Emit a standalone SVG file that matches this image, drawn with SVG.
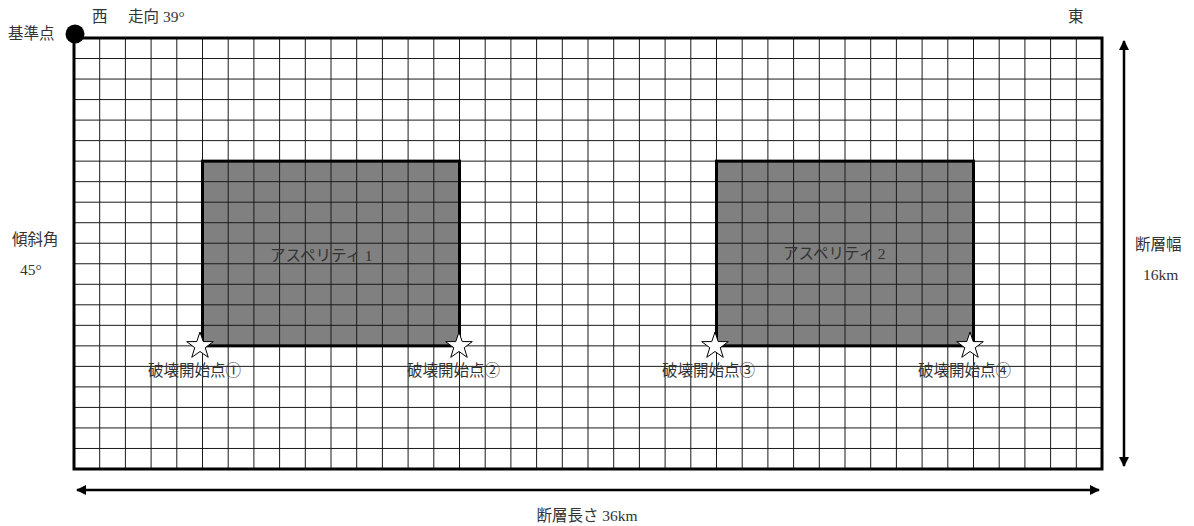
<svg xmlns="http://www.w3.org/2000/svg" width="1194" height="526" viewBox="0 0 1194 526">
<style>
.t{font-family:"Liberation Serif","Noto Sans CJK JP",serif;font-size:15.5px;fill:#333}
.grid{stroke:#1a1a1a;stroke-width:1;fill:none}
.asp{fill:#808080}
.aspb{fill:none;stroke:#000;stroke-width:3}
.frame{fill:none;stroke:#000;stroke-width:3}
.arrow{stroke:#000;stroke-width:2.5;fill:none}
.star{fill:#fff;stroke:#000;stroke-width:1}
</style>
<defs>
<polygon id="star" class="star" points="0,-14 3.23,-4.45 13.31,-4.33 5.23,1.7 8.23,11.33 0,5.5 -8.23,11.33 -5.23,1.7 -13.31,-4.33 -3.23,-4.45"/>
<marker id="ah" viewBox="0 0 10 10" refX="9" refY="5" markerWidth="4.4" markerHeight="4" orient="auto-start-reverse" markerUnits="strokeWidth">
<path d="M0,0 L10,5 L0,10 z" fill="#000"/>
</marker>
</defs>
<rect width="1194" height="526" fill="#fff"/>
<g id="fault-plane">
<rect x="74" y="38" width="1028" height="431" fill="#fff"/>
</g>
<g id="asperity1">
<rect class="asp" x="202.5" y="161.14" width="257" height="184.72"/>
</g>
<g id="asperity2">
<rect class="asp" x="716.5" y="161.14" width="257" height="184.72"/>
</g>
<g id="grid">
<path class="grid" d="M99.7,38V469M125.4,38V469M151.1,38V469M176.8,38V469M202.5,38V469M228.2,38V469M253.9,38V469M279.6,38V469M305.3,38V469M331,38V469M356.7,38V469M382.4,38V469M408.1,38V469M433.8,38V469M459.5,38V469M485.2,38V469M510.9,38V469M536.6,38V469M562.3,38V469M588,38V469M613.7,38V469M639.4,38V469M665.1,38V469M690.8,38V469M716.5,38V469M742.2,38V469M767.9,38V469M793.6,38V469M819.3,38V469M845,38V469M870.7,38V469M896.4,38V469M922.1,38V469M947.8,38V469M973.5,38V469M999.2,38V469M1024.9,38V469M1050.6,38V469M1076.3,38V469"/>
<path class="grid" d="M74,58.52H1102M74,79.05H1102M74,99.57H1102M74,120.1H1102M74,140.62H1102M74,161.14H1102M74,181.67H1102M74,202.19H1102M74,222.71H1102M74,243.24H1102M74,263.76H1102M74,284.29H1102M74,304.81H1102M74,325.33H1102M74,345.86H1102M74,366.38H1102M74,386.9H1102M74,407.43H1102M74,427.95H1102M74,448.48H1102"/>
</g>
<g id="asperity-borders">
<rect class="aspb" x="202.5" y="161.14" width="257" height="184.72"/>
<rect class="aspb" x="716.5" y="161.14" width="257" height="184.72"/>
</g>
<g id="frame">
<rect class="frame" x="74" y="38" width="1028" height="431"/>
</g>
<g id="reference-point">
<circle cx="75" cy="34" r="9.5" fill="#000"/>
<text class="t" x="8" y="39">基準点</text>
</g>
<g id="labels">
<text class="t" x="92" y="22">西</text>
<text class="t" x="128" y="22">走向 39°</text>
<text class="t" x="1068" y="22">東</text>
<text class="t" x="12" y="245">傾斜角</text>
<text class="t" x="20" y="275">45°</text>
<text class="t" x="1135" y="250">断層幅</text>
<text class="t" x="1143" y="280">16km</text>
<text class="t" x="587" y="521" text-anchor="middle">断層長さ 36km</text>
<text class="t" x="270" y="261">アスペリティ 1</text>
<text class="t" x="783" y="259">アスペリティ 2</text>
</g>
<g id="rupture-points">
<g id="rp1"><use href="#star" x="200" y="346"/><text class="t" x="148" y="376">破壊開始点①</text></g>
<g id="rp2"><use href="#star" x="459" y="346"/><text class="t" x="407" y="376">破壊開始点②</text></g>
<g id="rp3"><use href="#star" x="715" y="346"/><text class="t" x="662" y="376">破壊開始点③</text></g>
<g id="rp4"><use href="#star" x="970" y="346"/><text class="t" x="918" y="376">破壊開始点④</text></g>
</g>
<g id="connectors">
<line class="arrow" x1="1124" y1="41" x2="1124" y2="466" marker-start="url(#ah)" marker-end="url(#ah)"/>
<line class="arrow" x1="77" y1="490" x2="1099" y2="490" marker-start="url(#ah)" marker-end="url(#ah)"/>
</g>
</svg>
